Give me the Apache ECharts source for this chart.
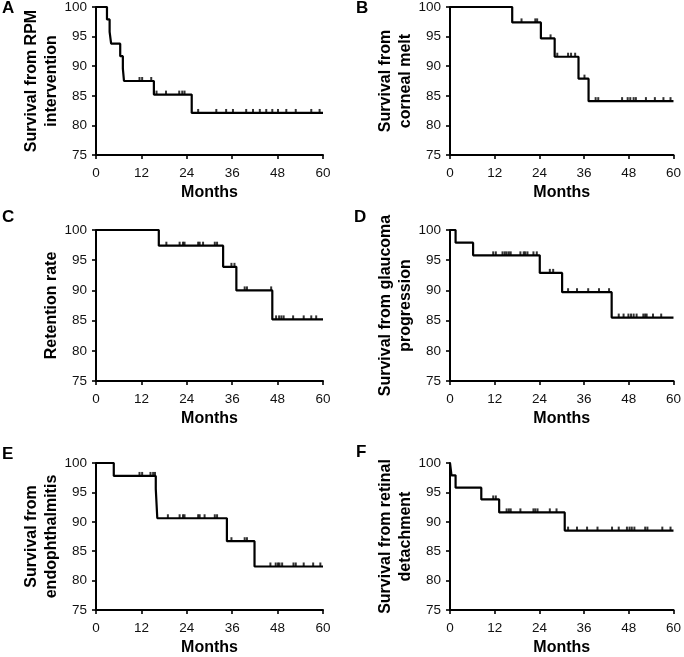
<!DOCTYPE html>
<html>
<head>
<meta charset="utf-8">
<script src="https://cdn.jsdelivr.net/npm/echarts@6/dist/echarts.min.js"></script>
<style>
html, body { margin: 0; padding: 0; background: #fff; }
#chart { width: 684px; height: 657px; }
</style>
</head>
<body>
<div id="chart"></div>
<script>
// x ticks (months) and y ticks (%)
const monthTicks = [0, 12, 24, 36, 48, 60]
const survTicks = [75, 80, 85, 90, 95, 100]

// A - survival from RPM intervention
const aTime = [0, 2.9, 3.6, 4.0, 6.4, 7.1, 7.4, 15.3, 25.3, 60]
const aSurv = [100, 97.9, 95.8, 93.8, 91.7, 89.6, 87.5, 85.2, 82.1, 82.1]
const aCensor = [11.5, 12.2, 14.6, 16, 18.5, 22, 22.8, 23.4, 27, 31.8, 34.4, 36.2, 39.7, 41.5, 43.3, 45, 46.6, 48.1, 50.3, 52.8, 56.9, 59.1]

// B - survival from corneal melt
const bTime = [0, 16.7, 24.4, 28.1, 34.5, 37.2, 60]
const bSurv = [100, 97.4, 94.7, 91.6, 87.9, 84.1, 84.1]
const bCensor = [19.2, 22.9, 23.4, 27.0, 28.8, 31.7, 32.5, 33.6, 36.1, 39.1, 39.8, 46.2, 47.7, 48.4, 49.3, 49.9, 52.6, 55, 57.3, 59.2]

// C - retention rate
const cTime = [0, 16.6, 33.6, 37.1, 46.6, 60]
const cSurv = [100, 97.4, 93.9, 90.0, 85.2, 85.2]
const cCensor = [18.6, 22.1, 23, 23.4, 27, 27.4, 28.3, 31.4, 32, 35.8, 36.6, 39.3, 39.9, 46.3, 47.6, 48.4, 49, 49.6, 52.1, 54.9, 56.9, 58.2]

// D - survival from glaucoma progression
const dTime = [0, 1.5, 6.2, 24.1, 30.1, 43.4, 60]
const dSurv = [100, 97.9, 95.8, 92.9, 89.7, 85.5, 85.5]
const dCensor = [11.6, 12.3, 14.1, 14.7, 15.2, 15.8, 16.3, 18.9, 19.8, 20.2, 20.8, 22.4, 23.3, 26.8, 27.7, 31.7, 34.1, 37.1, 40.0, 42.7, 45.3, 46.6, 47.9, 48.6, 49.3, 50.1, 51.9, 52.4, 52.8, 54.5, 56.7]

// E - survival from endophthalmitis
const eTime = [0, 4.7, 15.8, 16.2, 34.6, 41.9, 60]
const eSurv = [100, 97.8, 95.6, 90.6, 86.7, 82.4, 82.4]
const eCensor = [11.5, 12.2, 14.4, 15.1, 15.6, 19, 22.1, 23, 23.4, 27, 27.4, 28.7, 31.4, 32, 35.8, 39.3, 39.9, 46.1, 47.5, 48.1, 48.5, 49.2, 52.2, 52.8, 54.9, 57.4, 59.3]

// F - survival from retinal detachment
const fTime = [0, 0.4, 1.5, 8.4, 13.2, 30.8, 60]
const fSurv = [100, 97.9, 95.8, 93.8, 91.6, 88.5, 88.5]
const fCensor = [11.6, 12.3, 15.2, 15.8, 16.3, 18.9, 22.4, 22.9, 23.5, 26.8, 28.6, 31.7, 34.1, 36.8, 39.6, 43.5, 45.3, 47.5, 48.2, 48.8, 49.5, 52.4, 53, 57, 59.2]

const panels = [
  { letter: 'A', title: 'Survival from RPM\nintervention', time: aTime, surv: aSurv, censor: aCensor, left: 96, top: 4, lx: 8, ly: 9 },
  { letter: 'B', title: 'Survival from\ncorneal melt', time: bTime, surv: bSurv, censor: bCensor, left: 450, top: 4, lx: 362, ly: 9 },
  { letter: 'C', title: 'Retention rate', time: cTime, surv: cSurv, censor: cCensor, left: 96, top: 230, lx: 8, ly: 218 },
  { letter: 'D', title: 'Survival from glaucoma\nprogression', time: dTime, surv: dSurv, censor: dCensor, left: 450, top: 230, lx: 360, ly: 218 },
  { letter: 'E', title: 'Survival from\nendophthalmitis', time: eTime, surv: eSurv, censor: eCensor, left: 96, top: 463, lx: 8, ly: 455 },
  { letter: 'F', title: 'Survival from retinal\ndetachment', time: fTime, surv: fSurv, censor: fCensor, left: 450, top: 463, lx: 362, ly: 453 },
]

// survival level of the step curve at time t
function levelAt(time, surv, t) {
  let v = surv[0]
  for (let i = 0; i < time.length; i++) {
    if (time[i] <= t) v = surv[i]
  }
  return v
}

const font = 'Liberation Sans, Arial, sans-serif'
const axisLine = { show: true, lineStyle: { color: '#000', width: 2 } }
const axisTick = { show: true, length: 4, lineStyle: { color: '#000', width: 1.6 } }

const grid = [], xAxis = [], yAxis = [], series = [], graphic = []
panels.forEach((p, i) => {
  grid.push({ left: p.left, top: p.top, width: 227, height: 151 })
  xAxis.push({
    gridIndex: i, type: 'value',
    min: monthTicks[0], max: monthTicks[monthTicks.length - 1], interval: 12,
    axisLine, axisTick, splitLine: { show: false },
    axisLabel: { color: '#111', fontSize: 13.5, fontFamily: font, margin: 11 },
    name: 'Months', nameLocation: 'middle', nameGap: 30, nameMoveOverlap: false,
    nameTextStyle: { color: '#000', fontSize: 16, fontWeight: 'bold', fontFamily: font },
  })
  yAxis.push({
    gridIndex: i, type: 'value',
    min: survTicks[0], max: survTicks[survTicks.length - 1], interval: 5,
    axisLine, axisTick, splitLine: { show: false },
    axisLabel: { color: '#111', fontSize: 13.5, fontFamily: font, margin: 9 },
    name: p.title, nameLocation: 'middle', nameGap: 34, nameMoveOverlap: false,
    nameTextStyle: { color: '#000', fontSize: 16, fontWeight: 'bold', fontFamily: font, lineHeight: 20 },
  })
  series.push({
    type: 'line', xAxisIndex: i, yAxisIndex: i, step: 'end', showSymbol: false,
    lineStyle: { color: '#000', width: 2.2 },
    data: p.time.map((t, k) => [t, p.surv[k]]),
    animation: false,
  })
  series.push({
    type: 'scatter', xAxisIndex: i, yAxisIndex: i,
    symbol: 'rect', symbolSize: [2, 4], symbolOffset: [0, -2],
    itemStyle: { color: '#000' },
    data: p.censor.map(t => [t, levelAt(p.time, p.surv, t)]),
    animation: false,
  })
  graphic.push({
    type: 'text', left: p.lx - 6, top: p.ly - 9,
    style: { text: p.letter, font: 'bold 17px ' + font, fill: '#000' },
  })
})

const chart = echarts.init(document.getElementById('chart'))
chart.setOption({ animation: false, grid, xAxis, yAxis, series, graphic })
</script>
</body>
</html>
